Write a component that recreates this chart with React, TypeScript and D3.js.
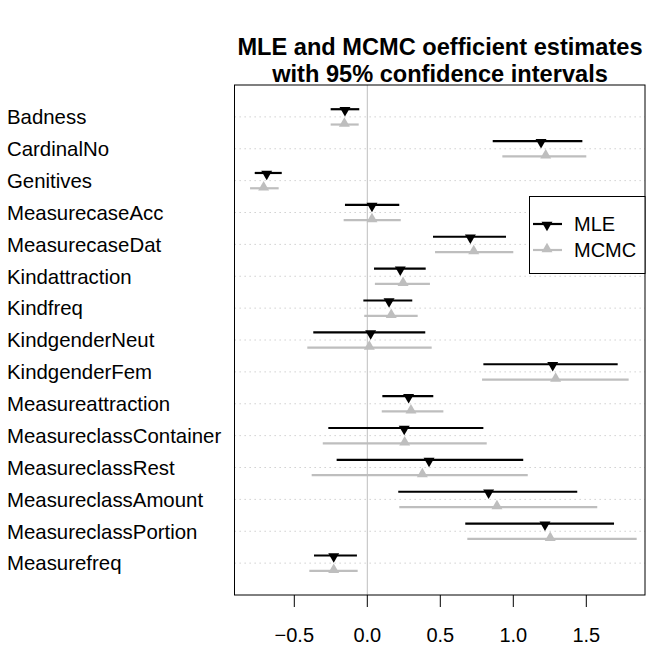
import React from 'react';
import * as d3 from 'd3';

// coefficient names, top to bottom
const terms = [
  'Badness', 'CardinalNo', 'Genitives', 'MeasurecaseAcc', 'MeasurecaseDat',
  'Kindattraction', 'Kindfreq', 'KindgenderNeut', 'KindgenderFem', 'Measureattraction',
  'MeasureclassContainer', 'MeasureclassRest', 'MeasureclassAmount', 'MeasureclassPortion', 'Measurefreq',
];

const mleEst = [-0.153, 1.19, -0.689, 0.032, 0.706, 0.226, 0.149, 0.023, 1.27, 0.283, 0.253, 0.423, 0.831, 1.217, -0.23];
const mleLo = [-0.251, 0.859, -0.771, -0.153, 0.45, 0.046, -0.027, -0.37, 0.795, 0.103, -0.267, -0.21, 0.212, 0.671, -0.365];
const mleHi = [-0.055, 1.473, -0.586, 0.219, 0.95, 0.4, 0.308, 0.397, 1.715, 0.452, 0.795, 1.068, 1.438, 1.69, -0.071];

const mcmcEst = [-0.157, 1.222, -0.71, 0.032, 0.729, 0.245, 0.164, 0.014, 1.29, 0.299, 0.256, 0.377, 0.888, 1.253, -0.23];
const mcmcLo = [-0.251, 0.925, -0.803, -0.162, 0.464, 0.052, -0.021, -0.411, 0.786, 0.099, -0.305, -0.381, 0.219, 0.685, -0.397];
const mcmcHi = [-0.059, 1.5, -0.607, 0.229, 1.0, 0.429, 0.345, 0.441, 1.79, 0.521, 0.818, 1.099, 1.575, 1.845, -0.066];

const xTicks = [-0.5, 0, 0.5, 1, 1.5];

const W = 657;
const H = 647;
const box = { left: 234.5, right: 645, top: 85, bottom: 595 };
const font = '"Liberation Sans", Arial, Helvetica, sans-serif';
const grey = '#bebebe';

const x = d3.scaleLinear().domain([-0.5, 1.5]).range([294.3, 586.3]);
const y = d3.scaleLinear().domain([0, 16]).range([box.top, box.bottom]);
const off = 0.24;

const tri = d3.symbol(d3.symbolTriangle, 52)() as string;

const fmt = (v: number) => d3.format('.1f')(v).replace('-', '\u2212');

export default function App() {
  const series = [
    { name: 'MLE', est: mleEst, lo: mleLo, hi: mleHi, color: '#000', dy: -off, rot: 180 },
    { name: 'MCMC', est: mcmcEst, lo: mcmcLo, hi: mcmcHi, color: grey, dy: off, rot: 0 },
  ];

  return (
    <svg
      width={W}
      height={H}
      style={{ position: 'absolute', left: 0, top: 0, background: '#fff' }}
      fontFamily={font}
    >
      {/* title */}
      <text x={440} y={55} textAnchor="middle" fontWeight="bold" fontSize={23.6}>
        MLE and MCMC oefficient estimates
      </text>
      <text x={440} y={82} textAnchor="middle" fontWeight="bold" fontSize={23.6}>
        with 95% confidence intervals
      </text>

      {/* dotted row guides */}
      {terms.map((t, i) => (
        <line
          key={'g' + t}
          x1={box.left}
          x2={box.right}
          y1={y(i + 1)}
          y2={y(i + 1)}
          stroke="#c8c8c8"
          strokeWidth={1}
          strokeDasharray="1.3 3.7"
        />
      ))}

      {/* zero line */}
      <line x1={x(0)} x2={x(0)} y1={box.top} y2={box.bottom} stroke={grey} strokeWidth={1} />

      {/* intervals and points */}
      {series.map(s => (
        <g key={s.name}>
          {terms.map((t, i) => (
            <g key={t}>
              <line
                x1={x(s.lo[i])}
                x2={x(s.hi[i])}
                y1={y(i + 1 + s.dy)}
                y2={y(i + 1 + s.dy)}
                stroke={s.color}
                strokeWidth={2.2}
              />
              <path
                d={tri}
                fill={s.color}
                transform={`translate(${x(s.est[i])},${y(i + 1 + s.dy) + (s.rot ? 1 : -1)}) rotate(${s.rot})`}
              />
            </g>
          ))}
        </g>
      ))}

      {/* row labels */}
      {terms.map((t, i) => (
        <text key={'l' + t} x={7} y={y(i + 1)} dy="0.36em" fontSize={20.4}>
          {t}
        </text>
      ))}

      {/* plot box */}
      <rect
        x={box.left}
        y={box.top}
        width={box.right - box.left}
        height={box.bottom - box.top}
        fill="none"
        stroke="#000"
        strokeWidth={1}
      />

      {/* x axis */}
      {xTicks.map(v => (
        <g key={v}>
          <line x1={x(v)} x2={x(v)} y1={box.bottom} y2={box.bottom + 12} stroke="#000" />
          <text x={x(v)} y={642} textAnchor="middle" fontSize={20}>
            {fmt(v)}
          </text>
        </g>
      ))}

      {/* legend */}
      <g>
        <rect x={529.5} y={196.5} width={box.right - 529.5} height={77} fill="#fff" stroke="#000" />
        {series.map((s, k) => {
          const ly = 224 + k * 26;
          return (
            <g key={'lg' + s.name}>
              <line x1={533} x2={562} y1={ly} y2={ly} stroke={s.color} strokeWidth={2.2} />
              <path d={tri} fill={s.color} transform={`translate(547,${ly + (s.rot ? 1 : -1)}) rotate(${s.rot})`} />
              <text x={574} y={ly} dy="0.36em" fontSize={20}>
                {s.name}
              </text>
            </g>
          );
        })}
      </g>
    </svg>
  );
}
